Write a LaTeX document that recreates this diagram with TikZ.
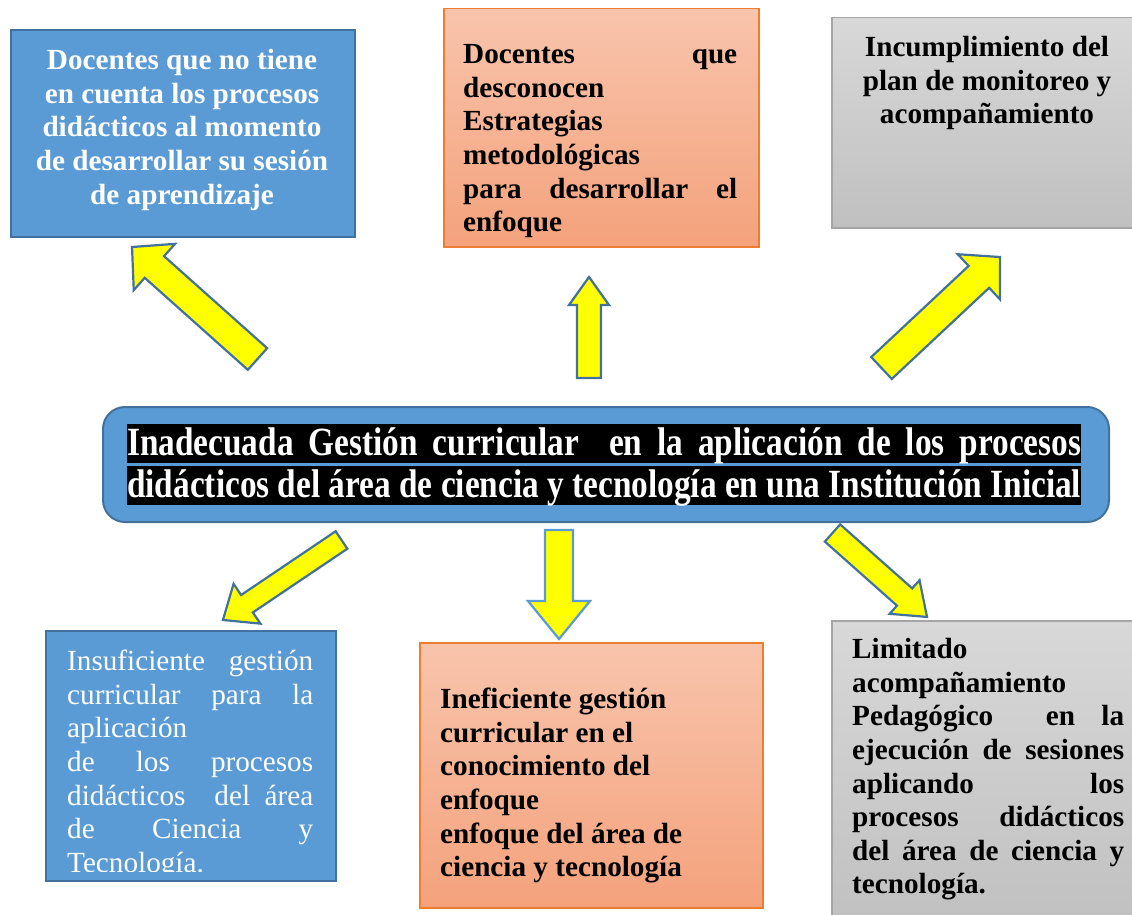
\documentclass[tikz,border=0pt]{standalone}
\usepackage{fontspec}
\setmainfont{Liberation Serif}
\usepackage{graphicx}
\definecolor{boxblue}{RGB}{91,155,213}
\definecolor{edgeblue}{RGB}{65,113,156}
\definecolor{orangetop}{RGB}{248,196,172}
\definecolor{orangebot}{RGB}{244,162,124}
\definecolor{orangeedge}{RGB}{237,125,49}
\definecolor{graytop}{RGB}{216,216,216}
\definecolor{graybot}{RGB}{192,192,192}
\definecolor{grayedge}{RGB}{165,165,165}
\definecolor{arrowyellow}{RGB}{255,255,0}
\newsavebox\lineA
\newsavebox\lineB
\newcommand\bodyfont{\fontsize{29.2pt}{33.6pt}\selectfont}
\newcommand\JL[2]{\makebox[#1pt][s]{\strut #2}}
\newcommand\LL[2]{\makebox[#1pt][l]{\strut #2}}
\newcommand\CL[2]{\makebox[#1pt][c]{\strut #2}}
\newcommand\centralfont{\fontsize{40pt}{44pt}\selectfont\bfseries}
\newcommand\blockarrow[8]{%
  \begin{scope}[shift={(#1,#2)}, rotate=#3]
    \filldraw[yarrow, draw=#8] (0,-#5/2) -- (#4-#7,-#5/2) -- (#4-#7,-#6/2) -- (#4,0)
      -- (#4-#7,#6/2) -- (#4-#7,#5/2) -- (0,#5/2) -- cycle;
  \end{scope}}
\tikzset{
  bluebox/.style={draw=edgeblue, fill=boxblue, line width=2pt, inner sep=0pt},
  orangebox/.style={draw=orangeedge, top color=orangetop, bottom color=orangebot, line width=1.5pt, inner sep=0pt},
  graybox/.style={draw=grayedge, top color=graytop, bottom color=graybot, line width=1.5pt, inner sep=0pt},
  boxtext/.style={inner sep=0pt, font=\bodyfont\bfseries, text=black, align=justify},
  hlband/.style={fill=black, text=white, inner sep=0pt, text height=31pt, text depth=7.5pt},
  yarrow/.style={fill=arrowyellow, line width=2.2pt, line join=miter},
}
\begin{document}
\sbox\lineB{\color{white}\centralfont didácticos del área de ciencia y tecnología en una Institución Inicial}
\sbox\lineA{\color{white}\makebox[\wd\lineB][s]{\centralfont Inadecuada Gestión curricular\ \ en la aplicación de los procesos}}
\begin{tikzpicture}[x=1pt, y=-1pt]
\useasboundingbox (0,0) rectangle (1132,915);
\clip (0,0) rectangle (1132,915);
\fill[white] (0,0) rectangle (1132,915);

% top row boxes
\node[bluebox, anchor=north west, minimum width=344pt, minimum height=207pt] (b1) at (10,29) {};
\node[boxtext, text=white, text width=330pt, anchor=north] (t1) at (182,46)
  {\CL{330}{Docentes que no tiene}\\ \CL{330}{en cuenta los procesos}\\ \CL{330}{didácticos al momento}\\ \CL{330}{de desarrollar su sesión}\\ \CL{330}{de aprendizaje}};

\node[orangebox, anchor=north west, minimum width=315pt, minimum height=238pt] (b2) at (443,8) {};
\node[boxtext, text width=274pt, anchor=north west] (t2) at (463,40)
  {\JL{274}{Docentes que}\\ \LL{274}{desconocen}\\ \LL{274}{Estrategias}\\ \LL{274}{metodológicas}\\ \JL{274}{para desarrollar el}\\ \LL{274}{enfoque}};

\node[graybox, anchor=north west, minimum width=320pt, minimum height=210pt] (b3) at (831,17) {};
\node[boxtext, text width=300pt, anchor=north] (t3) at (987,33)
  {\CL{300}{Incumplimiento del}\\ \CL{300}{plan de monitoreo y}\\ \CL{300}{acompañamiento}};

% central box
\node[bluebox, rounded corners=22pt, anchor=north west, minimum width=1006pt, minimum height=115pt] (center) at (102,406) {};
\node[hlband, anchor=base west] (c1) at (127,455) {\resizebox{954pt}{\height}{\usebox\lineA}};
\node[hlband, anchor=base west] (c2) at (127,497) {\resizebox{954pt}{\height}{\usebox\lineB}};

% bottom row boxes
\node[bluebox, anchor=north west, minimum width=290pt, minimum height=250pt] (b4) at (45,630) {};
\begin{scope}
  \clip (47,632) rectangle (333,871);
  \node[boxtext, font=\bodyfont, text=white, text width=246pt, anchor=north west] (t4) at (67,647)
    {\JL{246}{Insuficiente gestión}\\ \JL{246}{curricular para la}\\ \LL{246}{aplicación}\\ \JL{246}{de los procesos}\\ \JL{246}{didácticos\ \ del área}\\ \JL{246}{de Ciencia y}\\ \LL{246}{Tecnología.}};
\end{scope}

\node[orangebox, anchor=north west, minimum width=343pt, minimum height=265pt] (b5) at (419,642) {};
\node[boxtext, text width=300pt, anchor=north west] (t5) at (440,685)
  {\LL{300}{Ineficiente gestión}\\ \LL{300}{curricular en el}\\ \LL{300}{conocimiento del}\\ \LL{300}{enfoque}\\ \LL{300}{enfoque del área de}\\ \LL{300}{ciencia y tecnología}};

\node[graybox, anchor=north west, minimum width=330pt, minimum height=310pt] (b6) at (831,620) {};
\node[boxtext, text width=272pt, anchor=north west] (t6) at (852,635)
  {\LL{272}{Limitado}\\ \LL{272}{acompañamiento}\\ \JL{272}{Pedagógico\ \ en la}\\ \JL{272}{ejecución de sesiones}\\ \JL{272}{aplicando los}\\ \JL{272}{procesos didácticos}\\ \JL{272}{del área de ciencia y}\\ \LL{272}{tecnología.}};

% block arrows: tail x, tail y, angle, length, shaft width, head width, head length, edge colour
\blockarrow{257.5}{359}{138.25}{168.2}{29}{62}{30}{edgeblue}
\blockarrow{589}{378}{90}{101}{24}{40}{28}{edgeblue}
\blockarrow{881.5}{368}{43.1}{162.4}{30}{62}{29}{edgeblue}
\blockarrow{341.5}{540}{214}{143}{21}{48}{29}{edgeblue}
\blockarrow{559}{530}{-90}{109}{28}{62}{38}{boxblue}
\blockarrow{832.5}{533}{-41.6}{126.4}{23}{45}{30}{edgeblue}
\end{tikzpicture}
\end{document}
